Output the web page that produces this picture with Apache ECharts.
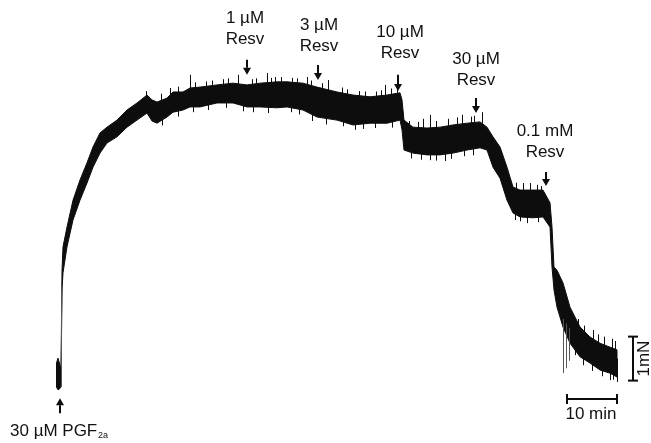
<!DOCTYPE html>
<html>
<head>
<meta charset="utf-8">
<script src="https://cdn.jsdelivr.net/npm/echarts@6/dist/echarts.min.js"></script>
<style>html,body{margin:0;padding:0;background:#fff}#c{width:651px;height:443px}</style>
</head>
<body>
<div id="c"></div>
<script>
// Time (min) and tension envelope (mN) of the recorded trace
const traceT = [-0.3, 0.0, 0.4, 0.6, 0.8, 1.0, 1.8, 3.0, 4.4, 5.8, 7.0, 8.4, 9.8, 11.8, 13.8, 15.8, 17.8, 18.8, 19.8, 21.8, 23.0, 25.0, 26.4, 28.4, 31.8, 35.0, 37.8, 40.4, 43.8, 45.8, 49.0, 51.8, 55.8, 59.0, 62.4, 65.8, 68.4, 68.8, 69.2, 71.0, 73.8, 76.4, 79.0, 81.8, 84.4, 85.8, 87.0, 88.4, 89.8, 91.0, 92.4, 95.0, 97.0, 98.4, 98.8, 99.2, 99.8, 101.0, 102.4, 104.4, 106.4, 108.4, 110.4, 111.8];
const traceUpper = [0.50, 0.61, 0.45, 0.35, 2.60, 3.14, 3.59, 4.20, 4.66, 5.05, 5.41, 5.73, 5.86, 6.02, 6.25, 6.41, 6.59, 6.48, 6.43, 6.52, 6.66, 6.66, 6.75, 6.77, 6.82, 6.86, 6.82, 6.86, 6.89, 6.89, 6.86, 6.77, 6.66, 6.59, 6.55, 6.59, 6.64, 6.48, 6.02, 5.86, 5.84, 5.86, 5.91, 5.95, 5.98, 5.86, 5.64, 5.41, 4.95, 4.50, 4.43, 4.43, 4.43, 4.14, 3.59, 2.68, 2.61, 2.32, 1.77, 1.32, 1.09, 0.95, 0.86, 0.80];
const traceLower = [-0.05, -0.11, -0.08, 0.00, 2.16, 2.55, 3.14, 3.75, 4.20, 4.59, 4.95, 5.27, 5.50, 5.64, 5.86, 6.02, 6.18, 6.00, 5.95, 6.09, 6.20, 6.25, 6.32, 6.32, 6.41, 6.41, 6.32, 6.32, 6.30, 6.32, 6.25, 6.09, 6.02, 5.91, 5.95, 5.95, 6.02, 5.80, 5.34, 5.27, 5.23, 5.23, 5.27, 5.34, 5.39, 5.34, 4.95, 4.70, 4.20, 3.91, 3.82, 3.80, 3.82, 3.59, 2.68, 2.16, 1.77, 1.32, 0.95, 0.64, 0.50, 0.34, 0.27, 0.18];

// Noise spikes: [time, low, high]
const spikesDark = [
  [17.6, 6.2, 6.68], [26.4, 6.4, 7.05], [36.0, 6.5, 7.05], [37.0, 6.22, 6.6], [41.8, 6.5, 7.09], [43.4, 6.5, 7.0],
  [49.8, 6.4, 7.0], [54.0, 6.3, 6.93], [59.4, 5.80, 6.3], [65.4, 6.2, 6.82], [67.8, 6.2, 6.78], [74.4, 5.11, 6.14],
  [77.4, 5.09, 5.6], [80.8, 5.5, 6.14], [84.8, 5.6, 6.2], [92.4, 3.72, 4.2], [93.0, 4.0, 4.59], [94.4, 4.0, 4.59],
  [103.4, 0.68, 1.2], [110.4, 0.11, 0.6], [111.8, 0.07, 0.6],
  // short spikes along the upper edge
  [20.5, 6.3, 6.62], [22.4, 6.4, 6.75], [24.0, 6.45, 6.78], [27.4, 6.5, 6.88], [29.6, 6.5, 6.9], [30.8, 6.55, 6.92],
  [33.0, 6.6, 6.95], [34.0, 6.6, 6.97], [38.8, 6.6, 6.95], [39.6, 6.6, 6.97], [42.6, 6.6, 6.98], [44.6, 6.6, 7.0],
  [46.8, 6.6, 6.98], [47.8, 6.6, 6.97], [50.6, 6.55, 6.92], [52.8, 6.5, 6.86], [56.8, 6.45, 6.76], [57.8, 6.4, 6.72],
  [60.2, 6.35, 6.68], [61.4, 6.35, 6.67], [63.6, 6.35, 6.67], [64.6, 6.4, 6.70], [66.6, 6.4, 6.74],
  [70.2, 5.7, 6.0], [72.0, 5.7, 5.98], [73.0, 5.7, 6.05], [75.6, 5.7, 6.0], [78.0, 5.7, 6.05], [79.8, 5.75, 6.08],
  [82.6, 5.8, 6.1], [83.2, 5.8, 6.12], [91.6, 4.3, 4.6], [95.8, 4.3, 4.55], [96.6, 4.3, 4.52],
  [104.0, 1.2, 1.5], [105.2, 1.1, 1.35], [107.0, 0.95, 1.25], [108.0, 0.9, 1.15], [109.2, 0.85, 1.1], [110.8, 0.8, 1.05], [111.4, 0.75, 1.0],
  // short spikes along the lower edge
  [20.8, 5.9, 6.1], [24.0, 6.1, 6.4], [27.0, 6.2, 6.45], [30.0, 6.25, 6.5], [33.6, 6.3, 6.55], [39.0, 6.2, 6.45],
  [42.0, 6.18, 6.45], [46.6, 6.2, 6.45], [48.2, 6.15, 6.4], [50.8, 6.0, 6.3], [53.6, 5.92, 6.2], [57.0, 5.88, 6.1],
  [61.0, 5.82, 6.1], [63.4, 5.84, 6.1], [66.8, 5.85, 6.1], [70.6, 5.15, 5.4], [72.6, 5.12, 5.4], [75.6, 5.1, 5.4],
  [78.6, 5.14, 5.4], [81.2, 5.2, 5.45], [83.0, 5.22, 5.5], [91.4, 3.75, 4.0], [93.8, 3.68, 4.0], [96.0, 3.7, 4.0],
  [105.0, 0.45, 0.7], [106.8, 0.32, 0.6], [108.8, 0.2, 0.5], [111.0, 0.12, 0.4]
];
const spikesGray = [[0.6, -0.05, 2.3], [101.0, 0.27, 1.5], [101.6, 0.38, 1.4], [102.2, 0.55, 1.3]];

// Drug additions: [time, arrow tail, arrow tip]
const arrows = [[0.4, -0.64, -0.30], [37.8, 7.39, 7.05], [52.0, 7.27, 6.93], [68.0, 7.05, 6.68], [83.6, 6.52, 6.18], [97.6, 4.84, 4.52]];
const doseLabels = ['1 µM\nResv', '3 µM\nResv', '10 µM\nResv', '30 µM\nResv', '0.1 mM\nResv'];
const doseLabelT = [37.4, 52.2, 68.4, 83.6, 97.4];
const doseLabelV = [8.09, 7.93, 7.77, 7.16, 5.53];

// Scale bars
const scaleTime = {start: 101.8, length: 10, level: -0.32, label: '10 min'};
const scaleForce = {start: 0.1, length: 1, at: 115.0, label: '1mN'};

const INK = '#0d0d0d';

const chart = echarts.init(document.getElementById('c'), null, {renderer: 'canvas'});

const textItems = [];
doseLabels.forEach((s, i) => textItems.push([doseLabelT[i], doseLabelV[i], s, 'center', 17, 0]));
textItems.push([-9.6, -1.05, '30 µM PGF', 'left', 17, 0]);
textItems.push([8.0, -1.15, '2a', 'left', 9, 0]);
textItems.push([scaleTime.start + scaleTime.length / 2 - 0.2, -0.66, scaleTime.label, 'center', 17, 0]);
textItems.push([117.2, scaleForce.start + scaleForce.length / 2, scaleForce.label, 'center', 17, Math.PI / 2]);

function spikeSeries(data, color) {
  return {
    type: 'custom', clip: false, silent: true,
    data: data,
    renderItem: function (params, api) {
      const a = api.coord([api.value(0), api.value(1)]);
      const b = api.coord([api.value(0), api.value(2)]);
      const x = Math.round(a[0]) + 0.5;
      return {type: 'line', shape: {x1: x, y1: a[1], x2: x, y2: b[1]}, style: {stroke: color, lineWidth: 1}};
    }
  };
}

chart.setOption({
  animation: false,
  grid: {left: 0, right: 0, top: 0, bottom: 0},
  xAxis: {type: 'value', min: -11.6, max: 118.6, show: false},
  yAxis: {type: 'value', min: -1.318, max: 8.75, show: false},
  series: [
    {
      type: 'custom', clip: false, silent: true,
      data: [[traceT[0], traceLower[0]]],
      renderItem: function (params, api) {
        const pts = [];
        for (let i = 0; i < traceT.length; i++) pts.push(api.coord([traceT[i], traceUpper[i]]));
        for (let i = traceT.length - 1; i >= 0; i--) pts.push(api.coord([traceT[i], traceLower[i]]));
        return {type: 'polygon', shape: {points: pts}, style: {fill: INK, stroke: INK, lineWidth: 1}};
      }
    },
    spikeSeries(spikesDark, INK),
    spikeSeries(spikesGray, '#555'),
    {
      type: 'custom', clip: false, silent: true,
      data: arrows,
      renderItem: function (params, api) {
        const p0 = api.coord([api.value(0), api.value(1)]);
        const p1 = api.coord([api.value(0), api.value(2)]);
        const dir = p1[1] > p0[1] ? 1 : -1;
        const hl = 7, hw = 4;
        return {
          type: 'group',
          children: [
            {type: 'line', shape: {x1: p0[0], y1: p0[1], x2: p1[0], y2: p1[1] - dir * hl}, style: {stroke: INK, lineWidth: 2}},
            {type: 'polygon', shape: {points: [[p1[0], p1[1]], [p1[0] - hw, p1[1] - dir * hl], [p1[0] + hw, p1[1] - dir * hl]]}, style: {fill: INK}}
          ]
        };
      }
    },
    {
      type: 'custom', clip: false, silent: true,
      data: [[scaleTime.start, scaleTime.level]],
      renderItem: function (params, api) {
        const a = api.coord([scaleTime.start, scaleTime.level]);
        const b = api.coord([scaleTime.start + scaleTime.length, scaleTime.level]);
        const c = api.coord([scaleForce.at, scaleForce.start]);
        const d = api.coord([scaleForce.at, scaleForce.start + scaleForce.length]);
        const st = {stroke: INK, lineWidth: 2};
        return {
          type: 'group',
          children: [
            {type: 'line', shape: {x1: a[0], y1: a[1], x2: b[0], y2: b[1]}, style: st},
            {type: 'line', shape: {x1: a[0], y1: a[1] - 5, x2: a[0], y2: a[1] + 5}, style: st},
            {type: 'line', shape: {x1: b[0], y1: b[1] - 5, x2: b[0], y2: b[1] + 5}, style: st},
            {type: 'line', shape: {x1: c[0], y1: c[1], x2: d[0], y2: d[1]}, style: st},
            {type: 'line', shape: {x1: c[0] - 5, y1: c[1], x2: c[0] + 5, y2: c[1]}, style: st},
            {type: 'line', shape: {x1: d[0] - 5, y1: d[1], x2: d[0] + 5, y2: d[1]}, style: st}
          ]
        };
      }
    },
    {
      type: 'custom', clip: false, silent: true,
      data: textItems,
      renderItem: function (params, api) {
        const it = textItems[params.dataIndex];
        const p = api.coord([it[0], it[1]]);
        return {
          type: 'text', x: p[0], y: p[1], rotation: it[5],
          style: {
            text: it[2], x: 0, y: 0, align: it[3], verticalAlign: 'middle',
            font: it[4] + 'px "Liberation Sans", Arial, sans-serif', lineHeight: 21, fill: '#111'
          }
        };
      }
    }
  ]
});
</script>
</body>
</html>
